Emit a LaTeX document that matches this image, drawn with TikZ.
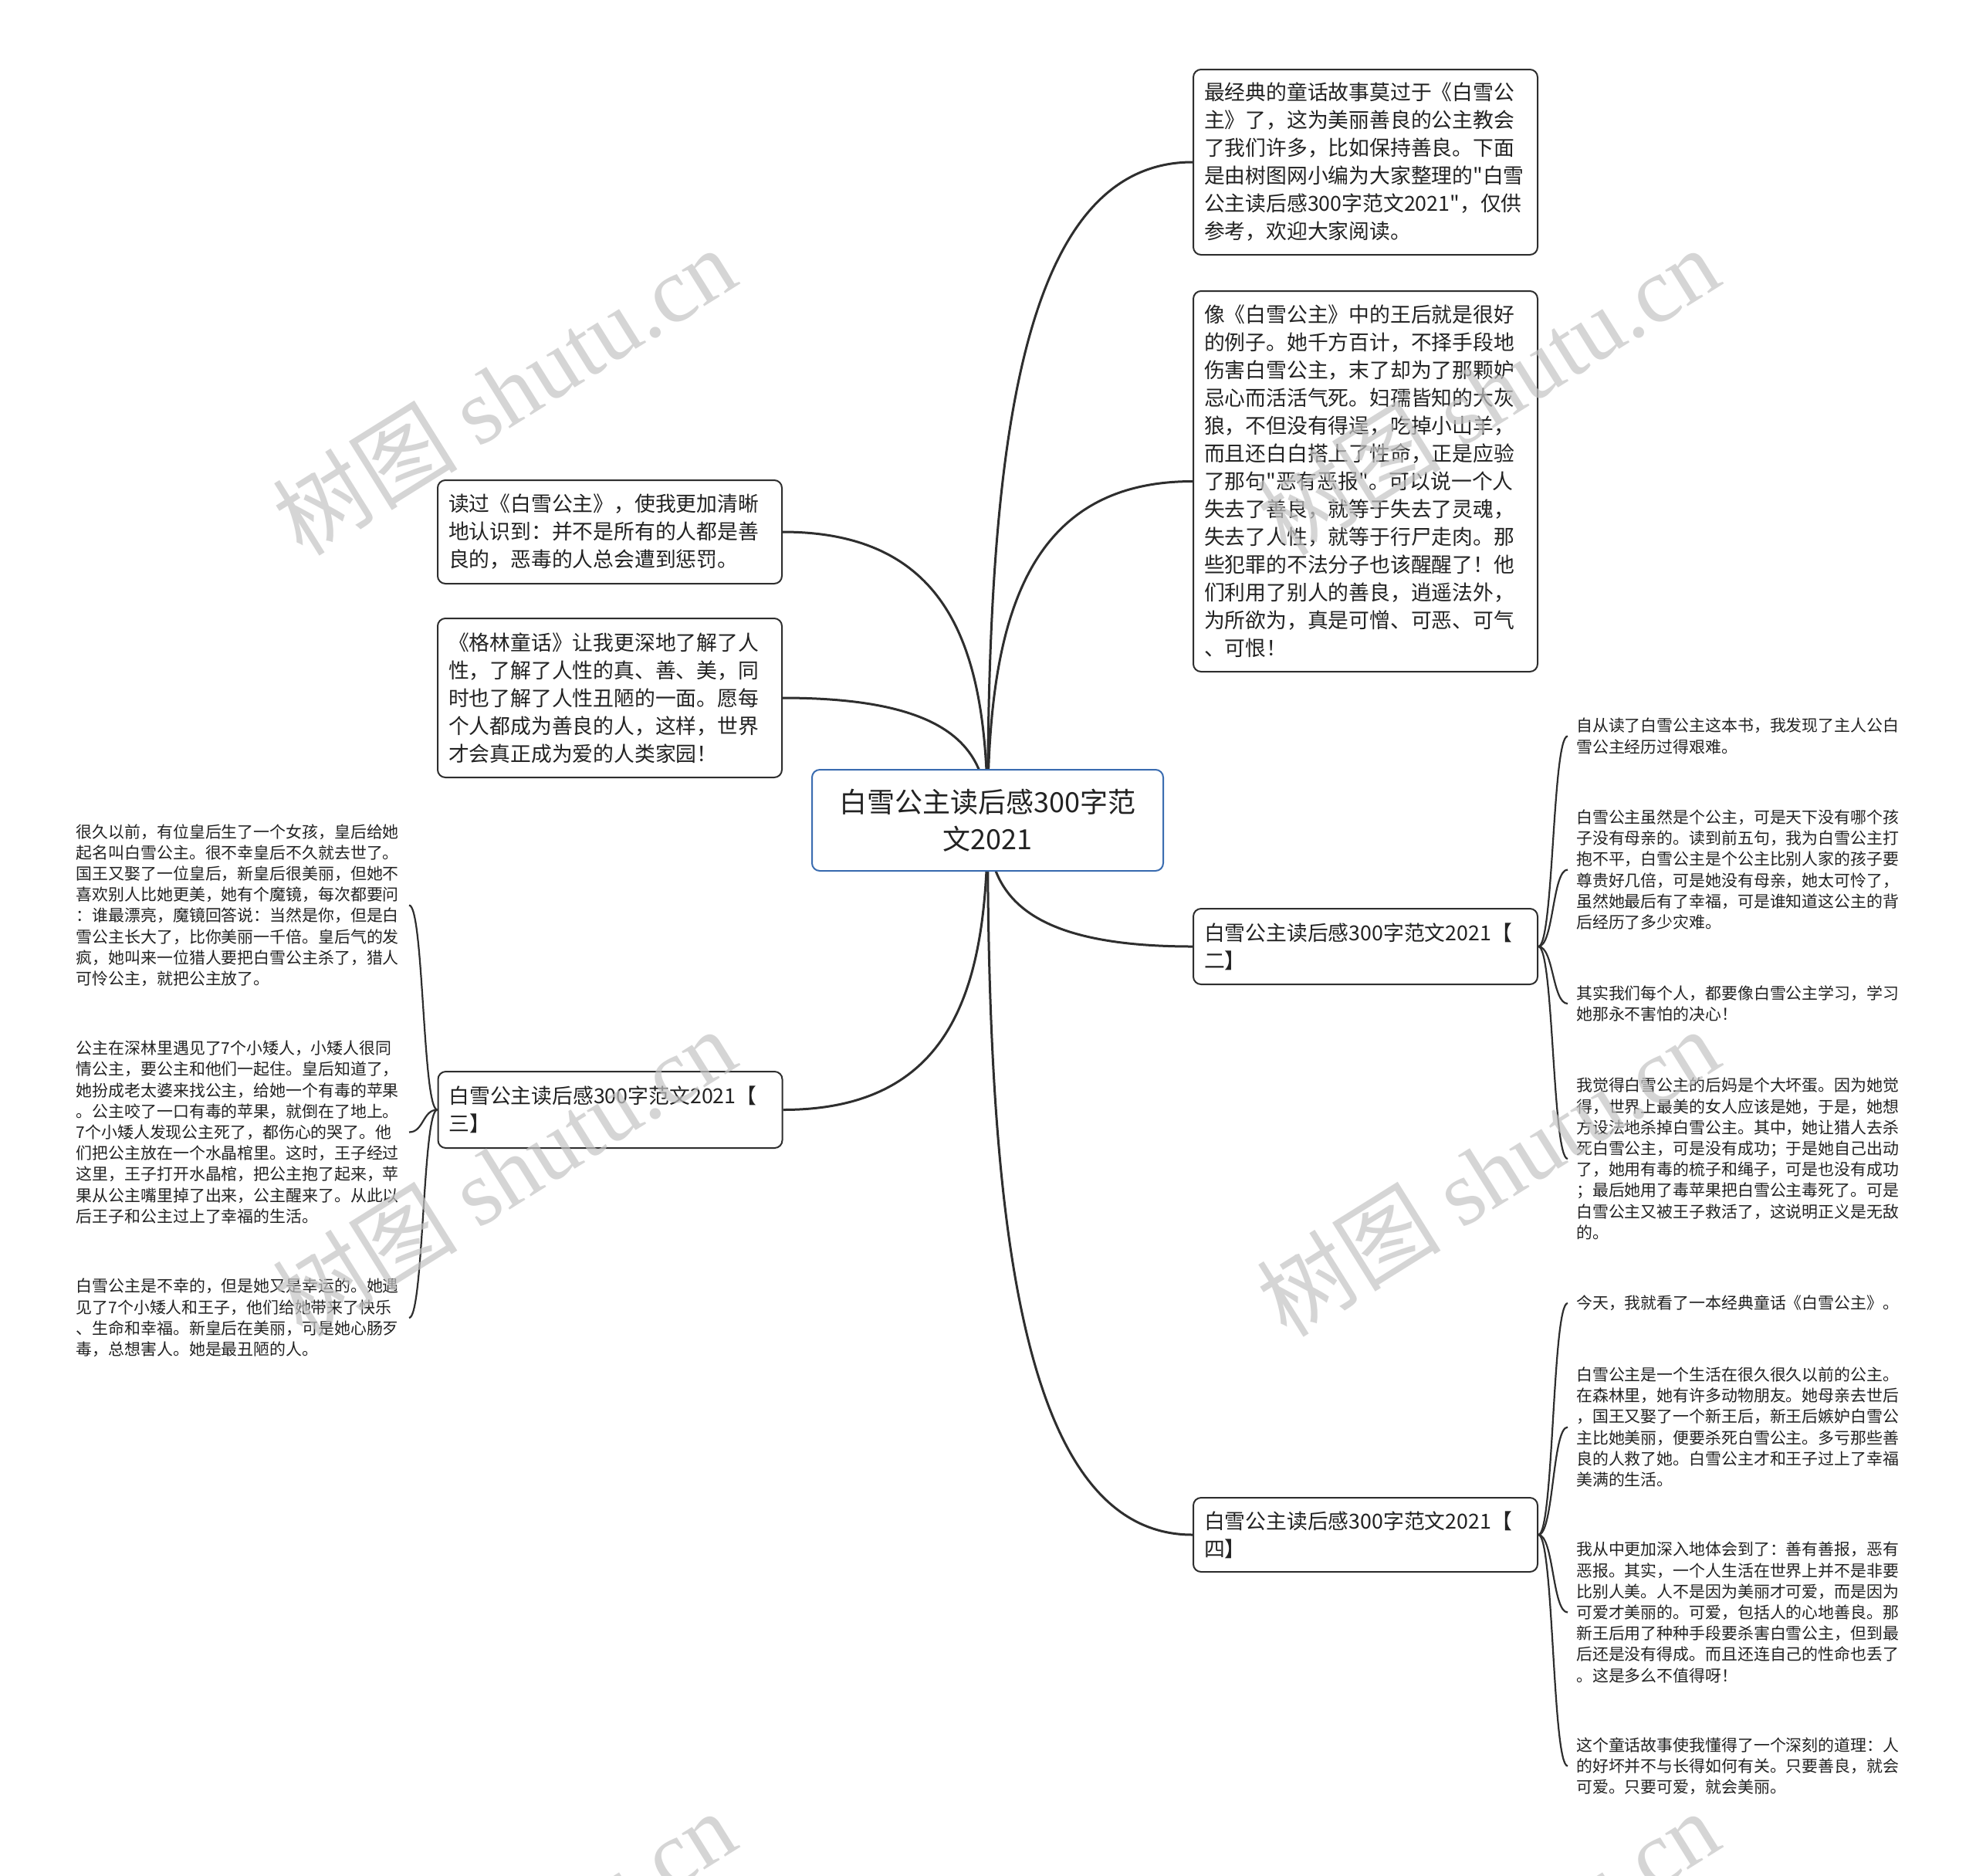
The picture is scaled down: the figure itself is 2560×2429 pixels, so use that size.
\documentclass[tikz,border=0pt]{standalone}
\usepackage{fontspec}
\setmainfont{Noto Sans CJK SC}[Ligatures=TeXOff]
\newfontfamily\wmlatin{Liberation Serif}
\usetikzlibrary{backgrounds}
\definecolor{lineC}{HTML}{2E2E2E}
\definecolor{rootB}{HTML}{3A6CB0}
\definecolor{wmC}{HTML}{C4C4C4}
\definecolor{txtC}{HTML}{222222}
\begin{document}
\begin{tikzpicture}[x=1pt,y=-1pt,
  box/.style={draw=lineC, line width=2pt, rounded corners=10pt, fill=white, text width=418pt, align=left, inner xsep=14pt, inner ysep=0pt, font=\fontsize{26.8pt}{36pt}\selectfont, text=txtC},
  leaf/.style={text width=420pt, align=left, inner xsep=11pt, inner ysep=4pt, font=\fontsize{20.9pt}{27.2pt}\selectfont, text=txtC},
  conn/.style={draw=lineC, line width=3pt},
  lconn/.style={draw=lineC, line width=2.2pt},
  wm/.style={text=wmC, opacity=0.7, rotate=32, font=\fontsize{120pt}{120pt}\selectfont}
]
\useasboundingbox (0,0) rectangle (2560,2429);

% root
\node[draw=rootB, line width=2pt, rounded corners=10pt, fill=white, minimum width=455pt, minimum height=131pt, align=center, text=txtC, font=\fontsize{36pt}{48pt}\selectfont] (root) at (1279.5,1062.5) {白雪公主读后感300字范\\文2021};

% right boxes
\node[box, minimum height=240pt] (b1) at (1769,210) {最经典的童话故事莫过于《白雪公\\主》了，这为美丽善良的公主教会\\了我们许多，比如保持善良。下面\\是由树图网小编为大家整理的"白雪\\公主读后感300字范文2021"，仅供\\参考，欢迎大家阅读。};
\node[box, minimum height=493pt] (b2) at (1769,623.5) {像《白雪公主》中的王后就是很好\\的例子。她千方百计，不择手段地\\伤害白雪公主，末了却为了那颗妒\\忌心而活活气死。妇孺皆知的大灰\\狼，不但没有得逞，吃掉小山羊，\\而且还白白搭上了性命，正是应验\\了那句"恶有恶报"。可以说一个人\\失去了善良，就等于失去了灵魂，\\失去了人性，就等于行尸走肉。那\\些犯罪的不法分子也该醒醒了！他\\们利用了别人的善良，逍遥法外，\\为所欲为，真是可憎、可恶、可气\\、可恨！};

% left boxes
\node[box, minimum height=134pt] (l1) at (790,689) {读过《白雪公主》，使我更加清晰\\地认识到：并不是所有的人都是善\\良的，恶毒的人总会遭到惩罚。};
\node[box, minimum height=206pt] (l2) at (790,904) {《格林童话》让我更深地了解了人\\性，了解了人性的真、善、美，同\\时也了解了人性丑陋的一面。愿每\\个人都成为善良的人，这样，世界\\才会真正成为爱的人类家园！};

% sections
\node[box, minimum height=98pt] (s2) at (1769,1226) {白雪公主读后感300字范文2021【\\二】};
\node[box, minimum height=99pt] (s3) at (790.5,1437.5) {白雪公主读后感300字范文2021【\\三】};
\node[box, minimum height=96pt] (s4) at (1769,1988) {白雪公主读后感300字范文2021【\\四】};

% leaves of section 2
\node[leaf, anchor=west] (a1) at (2031,953.5) {自从读了白雪公主这本书，我发现了主人公白\\雪公主经历过得艰难。};
\node[leaf, anchor=west] (a2) at (2031,1126.5) {白雪公主虽然是个公主，可是天下没有哪个孩\\子没有母亲的。读到前五句，我为白雪公主打\\抱不平，白雪公主是个公主比别人家的孩子要\\尊贵好几倍，可是她没有母亲，她太可怜了，\\虽然她最后有了幸福，可是谁知道这公主的背\\后经历了多少灾难。};
\node[leaf, anchor=west] (a3) at (2031,1300) {其实我们每个人，都要像白雪公主学习，学习\\她那永不害怕的决心！};
\node[leaf, anchor=west] (a4) at (2031,1501) {我觉得白雪公主的后妈是个大坏蛋。因为她觉\\得，世界上最美的女人应该是她，于是，她想\\方设法地杀掉白雪公主。其中，她让猎人去杀\\死白雪公主，可是没有成功；于是她自己出动\\了，她用有毒的梳子和绳子，可是也没有成功\\；最后她用了毒苹果把白雪公主毒死了。可是\\白雪公主又被王子救活了，这说明正义是无敌\\的。};

% leaves of section 4
\node[leaf, anchor=west] (c1) at (2031,1688) {今天，我就看了一本经典童话《白雪公主》。};
\node[leaf, anchor=west] (c2) at (2031,1848.5) {白雪公主是一个生活在很久很久以前的公主。\\在森林里，她有许多动物朋友。她母亲去世后\\，国王又娶了一个新王后，新王后嫉妒白雪公\\主比她美丽，便要杀死白雪公主。多亏那些善\\良的人救了她。白雪公主才和王子过上了幸福\\美满的生活。};
\node[leaf, anchor=west] (c3) at (2031,2088.5) {我从中更加深入地体会到了：善有善报，恶有\\恶报。其实，一个人生活在世界上并不是非要\\比别人美。人不是因为美丽才可爱，而是因为\\可爱才美丽的。可爱，包括人的心地善良。那\\新王后用了种种手段要杀害白雪公主，但到最\\后还是没有得成。而且还连自己的性命也丢了\\。这是多么不值得呀！};
\node[leaf, anchor=west] (c4) at (2031,2287.5) {这个童话故事使我懂得了一个深刻的道理：人\\的好坏并不与长得如何有关。只要善良，就会\\可爱。只要可爱，就会美丽。};

% leaves of section 3
\node[leaf, anchor=east] (d1) at (530,1172.5) {很久以前，有位皇后生了一个女孩，皇后给她\\起名叫白雪公主。很不幸皇后不久就去世了。\\国王又娶了一位皇后，新皇后很美丽，但她不\\喜欢别人比她更美，她有个魔镜，每次都要问\\：谁最漂亮，魔镜回答说：当然是你，但是白\\雪公主长大了，比你美丽一千倍。皇后气的发\\疯，她叫来一位猎人要把白雪公主杀了，猎人\\可怜公主，就把公主放了。};
\node[leaf, anchor=east] (d2) at (530,1466.5) {公主在深林里遇见了7个小矮人，小矮人很同\\情公主，要公主和他们一起住。皇后知道了，\\她扮成老太婆来找公主，给她一个有毒的苹果\\。公主咬了一口有毒的苹果，就倒在了地上。\\7个小矮人发现公主死了，都伤心的哭了。他\\们把公主放在一个水晶棺里。这时，王子经过\\这里，王子打开水晶棺，把公主抱了起来，苹\\果从公主嘴里掉了出来，公主醒来了。从此以\\后王子和公主过上了幸福的生活。};
\node[leaf, anchor=east] (d3) at (530,1707) {白雪公主是不幸的，但是她又是幸运的。她遇\\见了7个小矮人和王子，他们给她带来了快乐\\、生命和幸福。新皇后在美丽，可是她心肠歹\\毒，总想害人。她是最丑陋的人。};

\begin{scope}[on background layer]
\fill[white] (0,0) rectangle (2560,2429);
\draw[conn] (root.center) .. controls +(0,-469) and +(-227,0) .. (b1.west);
\draw[conn] (root.center) .. controls +(0,-241) and +(-226,0) .. (b2.west);
\draw[conn] (root.center) .. controls +(0,-205) and +(227,0) .. (l1.east);
\draw[conn] (root.center) .. controls +(0,-87) and +(227,0) .. (l2.east);
\draw[conn] (root.center) .. controls +(0,90) and +(-226,0) .. (s2.west);
\draw[conn] (root.center) .. controls +(0,206) and +(227,0) .. (s3.east);
\draw[conn] (root.center) .. controls +(0,509) and +(-226,0) .. (s4.west);
\foreach \t in {a1,a2,a3,a4}
  \draw[lconn] (s2.east) .. controls +(20,0) and +(-20,0) .. (\t.west);
\foreach \t in {c1,c2,c3,c4}
  \draw[lconn] (s4.east) .. controls +(20,0) and +(-20,0) .. (\t.west);
\foreach \t in {d1,d2,d3}
  \draw[lconn] (s3.west) .. controls +(-19,0) and +(19,0) .. (\t.east);
\end{scope}

% watermarks
\node[wm] (w1) at (653,506) {树图 {\wmlatin shutu.cn}};
\node[wm] (w2) at (1927,506) {树图 {\wmlatin shutu.cn}};
\node[wm] (w3) at (653,1518) {树图 {\wmlatin shutu.cn}};
\node[wm] (w4) at (1927,1518) {树图 {\wmlatin shutu.cn}};
\node[wm] (w5) at (653,2531) {树图 {\wmlatin shutu.cn}};
\node[wm] (w6) at (1927,2531) {树图 {\wmlatin shutu.cn}};
\end{tikzpicture}
\end{document}
